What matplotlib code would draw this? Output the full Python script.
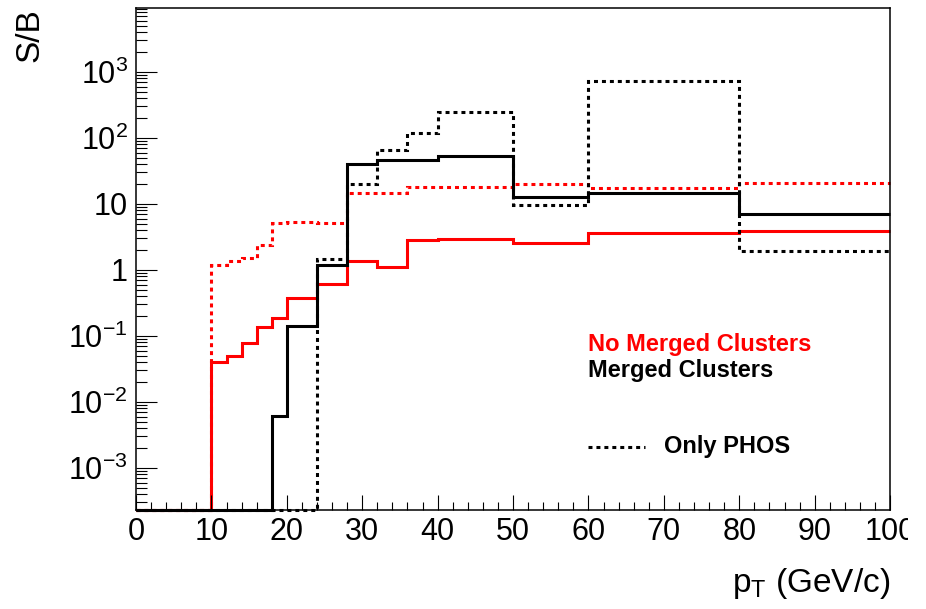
import matplotlib
matplotlib.use("Agg")
import matplotlib.pyplot as plt
import numpy as np
from matplotlib.patches import Rectangle
from matplotlib.lines import Line2D
from matplotlib.ticker import FixedLocator, FixedFormatter, LogLocator, NullFormatter, MultipleLocator

plt.rcParams['font.family'] = ['Liberation Sans', 'DejaVu Sans']
plt.rcParams['mathtext.fontset'] = 'custom'
plt.rcParams['mathtext.rm'] = 'Liberation Sans'
plt.rcParams['mathtext.it'] = 'Liberation Sans'
plt.rcParams['mathtext.default'] = 'regular'

# pT bin edges (GeV/c)
edges = [0, 2, 4, 6, 8, 10, 12, 14, 16, 18, 20, 24, 28, 32, 36, 40, 50, 60, 80, 100]

# signal / background per bin
no_merged = [0, 0, 0, 0, 0, 0.041, 0.050, 0.077, 0.137, 0.19,
             0.37, 0.61, 1.37, 1.12, 2.82, 2.92, 2.54, 3.6, 3.86]
no_merged_phos = [0, 0, 0, 0, 0, 1.2, 1.35, 1.54, 2.37, 5.1,
                  5.3, 5.1, 14.8, 14.8, 18.1, 18.1, 20.3, 17.5, 21.0]
merged = [0, 0, 0, 0, 0, 0, 0, 0, 0, 0.0061,
          0.142, 1.19, 40.7, 46.9, 46.9, 52.7, 12.8, 14.7, 7.0]
merged_phos = [0, 0, 0, 0, 0, 0, 0, 0, 0, 0,
               0, 1.47, 20.3, 65, 119, 247, 9.5, 730, 1.94]

y_ticks = [1e-3, 1e-2, 1e-1, 1, 10, 1e2, 1e3]
y_ticklabels = ['10$^{-3}$', '10$^{-2}$', '10$^{-1}$', '1', '10', '10$^{2}$', '10$^{3}$']
x_ticks = [0, 10, 20, 30, 40, 50, 60, 70, 80, 90, 100]

ymin, ymax = 2.31e-4, 9.33e3

fig = plt.figure(figsize=(9.26, 6.09), dpi=100)
ax = fig.add_axes([0.1469, 0.1626, 0.8143, 0.8243])
ax.set_yscale('log')
ax.set_xlim(0, 100)
ax.set_ylim(ymin, ymax)

dotted = (0, (1.3, 1.3))


def draw_hist(values, color, ls):
    # empty bins sit on the bottom of the frame
    vals = np.maximum(np.asarray(values, dtype=float), ymin)
    ax.stairs(vals, edges, baseline=None, color=color, linestyle=ls,
              linewidth=2.2, clip_on=False)


draw_hist(no_merged_phos, 'red', dotted)
draw_hist(no_merged, 'red', '-')
draw_hist(merged_phos, 'black', dotted)
draw_hist(merged, 'black', '-')

# axes styling
for side in ['left', 'right', 'top', 'bottom']:
    ax.spines[side].set_linewidth(1.1)

ax.yaxis.set_major_locator(FixedLocator(y_ticks))
ax.yaxis.set_major_formatter(FixedFormatter(y_ticklabels))
ax.yaxis.set_minor_locator(LogLocator(base=10, subs=np.arange(2, 10), numticks=20))
ax.yaxis.set_minor_formatter(NullFormatter())
ax.xaxis.set_major_locator(FixedLocator(x_ticks))
ax.xaxis.set_minor_locator(MultipleLocator(2))

ax.tick_params(axis='y', which='major', direction='in', length=15, width=0.8,
               labelsize=22, pad=6)
ax.tick_params(axis='y', which='minor', direction='in', length=8, width=0.8)
ax.tick_params(axis='x', which='major', direction='in', length=11, width=0.8,
               labelsize=22, pad=5)
ax.tick_params(axis='x', which='minor', direction='in', length=5.5, width=0.8)

# axis titles
fig.text(30 / 926, 1 - 8 / 609, 'S/B', rotation=90, ha='center', va='top', fontsize=24)
fig.text(890 / 926, 1 - 592 / 609, 'p$_{T}$ (GeV/c)', ha='right', va='baseline', fontsize=24)

# legend
ax.text(0.5995, 0.3287, 'No Merged Clusters', color='red', fontsize=17,
        fontweight='bold', ha='left', va='center', transform=ax.transAxes)
ax.text(0.5995, 0.2769, 'Merged Clusters', color='black', fontsize=17,
        fontweight='bold', ha='left', va='center', transform=ax.transAxes)
ax.add_line(Line2D([0.5995, 0.675], [0.1255, 0.1255], color='black', linestyle=dotted,
                   linewidth=2.2, transform=ax.transAxes))
ax.text(0.700, 0.1255, 'Only PHOS', color='black', fontsize=17,
        fontweight='bold', ha='left', va='center', transform=ax.transAxes)

# canvas edge cuts the last tick label
fig.add_artist(Rectangle((908 / 926, 0), 18 / 926, 1, transform=fig.transFigure,
                         facecolor='white', edgecolor='none', zorder=10))

fig.savefig('out.png', dpi=100)
